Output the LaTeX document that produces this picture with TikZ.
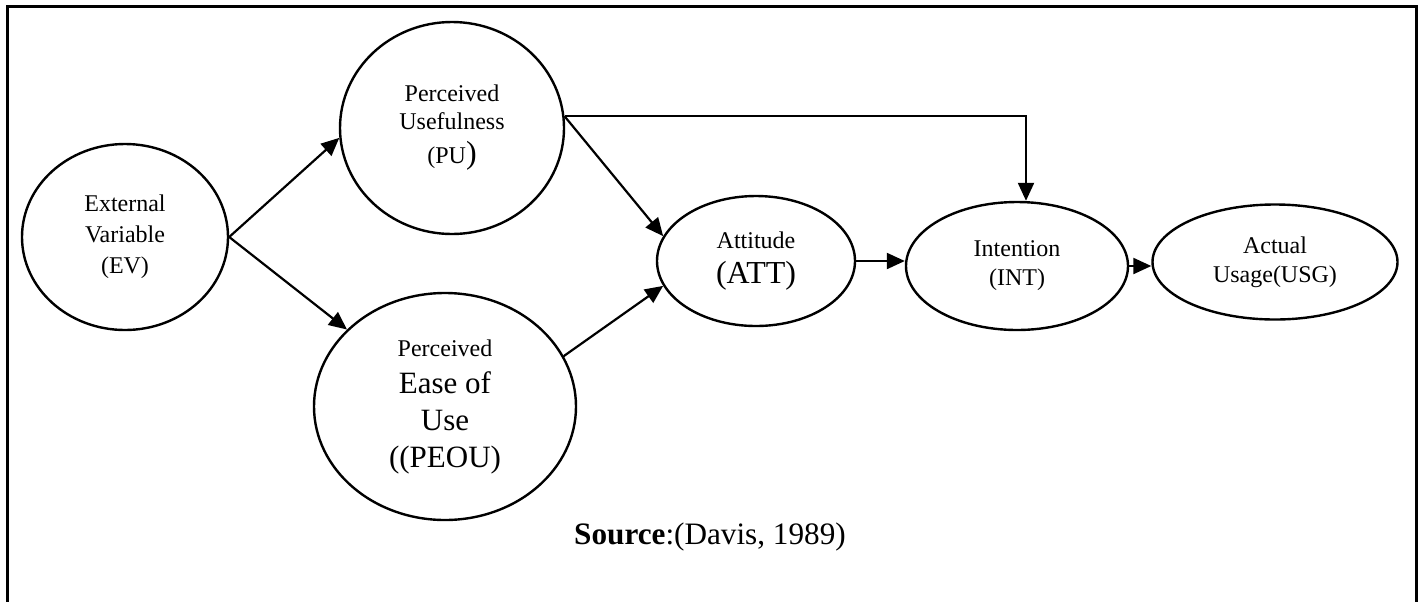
\documentclass[tikz,border=0pt]{standalone}
\usepackage{fontspec}
\setmainfont{Liberation Serif}
\usetikzlibrary{shapes.geometric,arrows.meta}
\begin{document}
\begin{tikzpicture}[x=0.5pt,y=-0.5pt,
  var/.style={ellipse,draw,line width=1.2pt,inner sep=0pt,align=center},
  arr/.style={line width=1.1pt,-{Triangle[length=9pt,width=8pt]}}
]
\useasboundingbox (0,0) rectangle (1419,601);
\clip (0,0) rectangle (1419,601);
\draw[line width=1.5pt] (7,640) -- (7,6) -- (1416,6) -- (1416,640);
\node[var,minimum width=103pt,minimum height=93pt,font=\fontsize{12}{15.5}\selectfont] (EV) at (125,237) {External\\Variable\\(EV)};
\node[var,minimum width=112pt,minimum height=106pt,font=\fontsize{12}{14}\selectfont] (PU) at (452,128) {Perceived\\Usefulness\\[3pt](PU{\fontsize{16}{16}\selectfont)}};
\node[var,minimum width=131pt,minimum height=113.5pt,font=\fontsize{15.5}{18.5}\selectfont] (PEOU) at (445,406.5) {{\fontsize{12}{18.5}\selectfont Perceived}\\Ease of\\Use\\((PEOU)};
\node[var,minimum width=99pt,minimum height=65pt,font=\fontsize{16}{17.5}\selectfont] (ATT) at (756,261) {{\fontsize{12}{17.5}\selectfont Attitude}\\(ATT)};
\node[var,minimum width=111pt,minimum height=64pt,font=\fontsize{12}{14.5}\selectfont] (INT) at (1017,266) {Intention\\(INT)};
\node[var,minimum width=122.5pt,minimum height=57.5pt,font=\fontsize{12}{14.5}\selectfont] (USG) at (1275,262) {Actual\\Usage(USG)};
\node[font=\fontsize{15.6}{18}\selectfont] (src) at (710,537) {\textbf{Source}:(Davis, 1989)};
\coordinate (corner) at (1026,116);
\draw[arr] (EV.east) -- (PU.185);
\draw[arr] (EV.east) -- (PEOU);
\draw[arr] (PU.6) -- (ATT.165);
\draw[arr] (PEOU.23) -- (ATT.195);
\draw[arr] (ATT.east) -- (ATT.east -| INT.west);
\draw[arr] (INT.east) -- (INT.east -| USG.west);
\draw[arr] (PU.6) -| (corner |- INT.north);
\end{tikzpicture}
\end{document}
